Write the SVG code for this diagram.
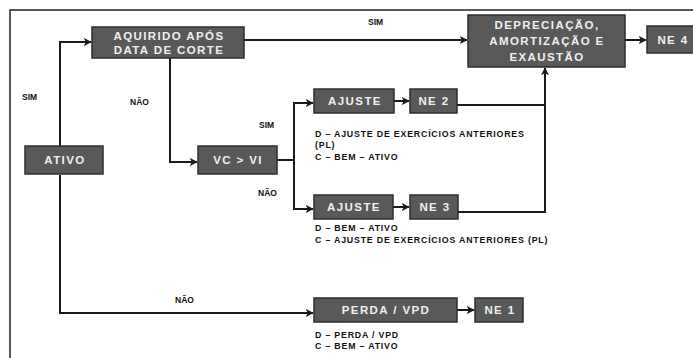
<svg xmlns="http://www.w3.org/2000/svg" width="693" height="358" viewBox="0 0 693 358">
<defs>
<marker id="ah" viewBox="0 0 10 10" refX="9" refY="5" markerWidth="4" markerHeight="4" orient="auto" markerUnits="strokeWidth">
<path d="M0,0 L10,5 L0,10 L2.5,5 z" fill="#1a1a1a"/>
</marker>
<style>
.box{fill:#595959;stroke:#2e2e2e;stroke-width:1.5}
.bt{font-family:"Liberation Sans",Arial,sans-serif;font-weight:bold;font-size:11.5px;letter-spacing:1.4px;fill:#f0f0f0;text-anchor:middle}
.lb{font-family:"Liberation Sans",Arial,sans-serif;font-weight:bold;font-size:8.5px;fill:#111}
.nt{font-family:"Liberation Sans",Arial,sans-serif;font-weight:bold;font-size:8.8px;letter-spacing:0.8px;fill:#111}
.ln{fill:none;stroke:#1a1a1a;stroke-width:2}
</style>
</defs>
<rect width="693" height="358" fill="#fff"/>
<path d="M10,358 V10 H693" fill="none" stroke="#222" stroke-width="1.5"/>
<g id="connectors">
<path class="ln" d="M60,147 V42 H91" marker-end="url(#ah)"/>
<path class="ln" d="M244,40 H467" marker-end="url(#ah)"/>
<path class="ln" d="M170,58 V162 H197" marker-end="url(#ah)"/>
<path class="ln" d="M277,160 H294 V103 H313" marker-end="url(#ah)"/>
<path class="ln" d="M294,160 V209 H313" marker-end="url(#ah)"/>
<path class="ln" d="M394,101 H409" marker-end="url(#ah)"/>
<path class="ln" d="M393,207 H409" marker-end="url(#ah)"/>
<path class="ln" d="M457,105 H545"/>
<path class="ln" d="M458,212 H545 V68" marker-end="url(#ah)"/>
<path class="ln" d="M60,175 V313 H313" marker-end="url(#ah)"/>
<path class="ln" d="M457,310 H474" marker-end="url(#ah)"/>
<path class="ln" d="M625,40 H646" marker-end="url(#ah)"/>
<text class="lb" x="22" y="100">SIM</text>
<text class="lb" x="130" y="105">NÃO</text>
<text class="lb" x="368" y="25">SIM</text>
<text class="lb" x="259" y="128">SIM</text>
<text class="lb" x="258" y="196">NÃO</text>
<text class="lb" x="175" y="303">NÃO</text>
</g>
<g id="ativo"><rect class="box" x="25" y="146" width="78" height="28"/><text class="bt" x="65" y="164">ATIVO</text></g>
<g id="adquirido"><rect class="box" x="92" y="27" width="152" height="31"/><text class="bt" x="169" y="40">AQUIRIDO APÓS</text><text class="bt" x="169" y="54">DATA DE CORTE</text></g>
<g id="vcvi"><rect class="box" x="198" y="146" width="79" height="28"/><text class="bt" x="238" y="164">VC &gt; VI</text></g>
<g id="deprec"><rect class="box" x="468" y="15" width="157" height="52"/><text class="bt" x="547" y="29">DEPRECIAÇÃO,</text><text class="bt" x="547" y="45">AMORTIZAÇÃO E</text><text class="bt" x="547" y="61">EXAUSTÃO</text></g>
<g id="ne4"><rect class="box" x="647" y="26" width="52" height="27"/><text class="bt" x="673" y="44">NE 4</text></g>
<g id="ajuste1"><rect class="box" x="314" y="89" width="80" height="24"/><text class="bt" x="355" y="105">AJUSTE</text>
<text class="nt" x="315" y="137">D – AJUSTE DE EXERCÍCIOS ANTERIORES</text><text class="nt" x="315" y="148">(PL)</text><text class="nt" x="315" y="160">C – BEM – ATIVO</text></g>
<g id="ne2"><rect class="box" x="410" y="89" width="47" height="24"/><text class="bt" x="434" y="105">NE 2</text></g>
<g id="ajuste2"><rect class="box" x="314" y="195" width="79" height="24"/><text class="bt" x="354" y="211">AJUSTE</text>
<text class="nt" x="315" y="231">D – BEM – ATIVO</text><text class="nt" x="315" y="243">C – AJUSTE DE EXERCÍCIOS ANTERIORES (PL)</text></g>
<g id="ne3"><rect class="box" x="410" y="195" width="48" height="24"/><text class="bt" x="435" y="211">NE 3</text></g>
<g id="perda"><rect class="box" x="314" y="298" width="143" height="24"/><text class="bt" x="386" y="314">PERDA / VPD</text>
<text class="nt" x="315" y="338">D – PERDA / VPD</text><text class="nt" x="315" y="349">C – BEM – ATIVO</text></g>
<g id="ne1"><rect class="box" x="475" y="298" width="48" height="24"/><text class="bt" x="500" y="314">NE 1</text></g>
</svg>
